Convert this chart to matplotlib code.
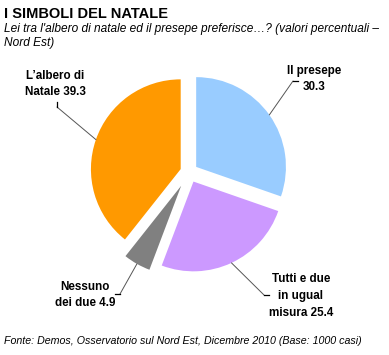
import numpy as np
import matplotlib
matplotlib.use('Agg')
import matplotlib.pyplot as plt

plt.rcParams['font.family'] = ['Liberation Sans', 'DejaVu Sans']

# data, clockwise from 12 o'clock
categories = ["Il presepe", "Tutti e due\nin ugual\nmisura", "Nessuno\ndei due", "L\u2019albero di\nNatale"]
values = [30.3, 25.4, 4.9, 39.3]
colors = ["#99CCFF", "#CC99FF", "#808080", "#FF9900"]
explode = [0.1, 0.12, 0.18, 0.1]

TITLE = "I SIMBOLI DEL NATALE"
SUBTITLE = "Lei tra l'albero di natale ed il presepe preferisce\u2026? (valori percentuali \u2013\nNord Est)"
SOURCE = "Fonte: Demos, Osservatorio sul Nord Est, Dicembre 2010 (Base: 1000 casi)"

W, H = 389, 355
fig = plt.figure(figsize=(W / 100, H / 100), dpi=100)


def fx(px):
    return px / W


def fy(py):
    return 1 - py / H


# pie axes, centre ~ (189, 172) px, 1 data unit = 88 px
size = 220
cx, cy = 189, 172
ax = fig.add_axes([fx(cx - size / 2), fy(cy + size / 2), size / W, size / H])

wedges, _ = ax.pie(values, colors=colors, explode=explode, startangle=90,
                   counterclock=False, radius=1.02,
                   wedgeprops=dict(linewidth=0))
ax.set_xlim(-1.25, 1.25)
ax.set_ylim(-1.25, 1.25)
ax.axis('off')

# label layout (px): text centre, elbow of leader line, short tick direction
label_pos = [(314, 79), (301, 296), (85, 295), (55, 84)]
elbows = [(293, 81), (264, 295), (120, 294), (57, 107)]
tick_dirs = [(1, 0), (1, 0), (-1, 0), (0, 1)]

for w, lab, val, (tx, ty), (ex, ey), (dx, dy) in zip(
        wedges, categories, values, label_pos, elbows, tick_dirs):
    ang = np.deg2rad((w.theta1 + w.theta2) / 2)
    px0, py0 = w.center
    r = w.r
    # leader from the middle of the outer arc to the label
    ax.annotate("", xy=(px0 + r * np.cos(ang), py0 + r * np.sin(ang)), xycoords='data',
                xytext=(fx(ex), fy(ey)), textcoords='figure fraction',
                arrowprops=dict(arrowstyle='-', color='#555555', lw=0.7,
                                shrinkA=0, shrinkB=0))
    fig.add_artist(plt.Line2D([fx(ex), fx(ex + 5 * dx)], [fy(ey), fy(ey - 5 * dy)],
                              color='black', lw=0.9))
    txt = f"{lab}\n{val}" if lab == "Il presepe" else f"{lab} {val}"
    fig.text(fx(tx), fy(ty), txt, ha='center', va='center', fontsize=8.4,
             fontweight='bold', linespacing=1.55)

fig.text(fx(4), fy(14), TITLE, ha='left', va='center', fontsize=10.5, fontweight='bold',
         family=['Liberation Sans Narrow', 'Liberation Sans'])
fig.text(fx(4), fy(36), SUBTITLE, ha='left', va='center', fontsize=8.55, style='italic',
         linespacing=1.25)
fig.text(fx(4), fy(341), SOURCE, ha='left', va='center', fontsize=7.7, style='italic')

fig.savefig('out.png', dpi=100)
